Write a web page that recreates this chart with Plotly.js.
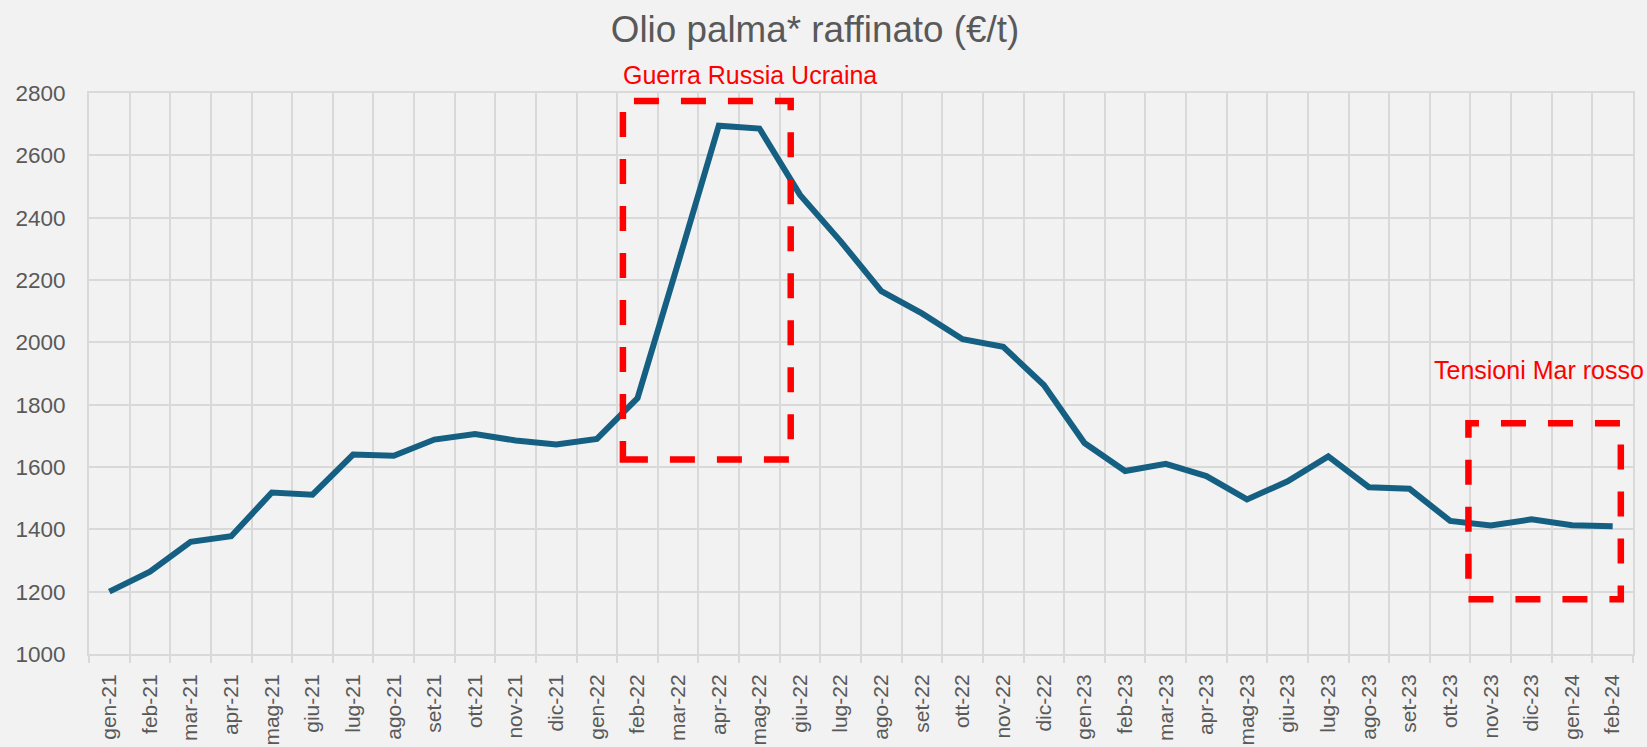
<!DOCTYPE html>
<html>
<head>
<meta charset="utf-8">
<script src="https://cdn.plot.ly/plotly-3.0.1.min.js"></script>
<style>
  html, body { margin: 0; padding: 0; background: #f2f2f2; }
  #chart { width: 1647px; height: 747px; }
</style>
</head>
<body>
<div id="chart"></div>
<script>
var months = ['gen-21','feb-21','mar-21','apr-21','mag-21','giu-21','lug-21','ago-21','set-21','ott-21','nov-21','dic-21',
              'gen-22','feb-22','mar-22','apr-22','mag-22','giu-22','lug-22','ago-22','set-22','ott-22','nov-22','dic-22',
              'gen-23','feb-23','mar-23','apr-23','mag-23','giu-23','lug-23','ago-23','set-23','ott-23','nov-23','dic-23',
              'gen-24','feb-24'];
var prices = [1200,1264,1360,1378,1518,1511,1640,1636,1688,1706,1685,1672,
              1690,1821,2255,2695,2686,2473,2324,2164,2093,2010,1986,1863,
              1677,1587,1610,1571,1496,1554,1634,1535,1530,1427,1412,1432,
              1413,1410];
var yTicks = [1000,1200,1400,1600,1800,2000,2200,2400,2600,2800];
var chartTitle = 'Olio palma* raffinato (€/t)';
var eventLabels = ['Guerra Russia Ucraina', 'Tensioni Mar rosso'];

var FONT = 'Liberation Sans, Arial, sans-serif';
var boxLine = {color: '#ff0000', width: 6.5, dash: '25px,22px'};

var trace = {
  type: 'scatter',
  mode: 'lines',
  x: months,
  y: prices,
  line: {color: '#156082', width: 6},
  hoverinfo: 'x+y'
};

var layout = {
  width: 1647,
  height: 747,
  paper_bgcolor: '#f2f2f2',
  plot_bgcolor: '#f2f2f2',
  margin: {l: 88.7, r: 14, t: 92.7, b: 92.7},
  showlegend: false,
  title: {
    text: chartTitle,
    font: {family: FONT, size: 36.8, color: '#595959'},
    x: 815 / 1647, xanchor: 'center', xref: 'container',
    y: 1 - 29 / 747, yanchor: 'middle', yref: 'container'
  },
  xaxis: {
    type: 'category',
    tickson: 'boundaries',
    showgrid: true,
    gridcolor: '#d9d9d9',
    gridwidth: 2,
    ticks: 'outside',
    ticklen: 7,
    tickwidth: 2,
    tickcolor: '#d9d9d9',
    tickangle: -90,
    tickfont: {family: FONT, size: 21, color: '#595959'},
    showline: true,
    linecolor: '#d9d9d9',
    linewidth: 2,
    mirror: true,
    zeroline: false,
    range: [-0.5, months.length - 0.5],
    ticklabelstandoff: 10
  },
  yaxis: {
    range: [1000, 2800],
    tickvals: yTicks,
    ticktext: yTicks.map(String),
    showgrid: true,
    gridcolor: '#d9d9d9',
    gridwidth: 2,
    ticks: '',
    tickfont: {family: FONT, size: 22.5, color: '#595959'},
    showline: true,
    linecolor: '#d9d9d9',
    linewidth: 2,
    mirror: true,
    zeroline: false,
    ticklabelstandoff: 17
  },
  shapes: [
    {type: 'rect', xref: 'x', yref: 'y', x0: 12.64, x1: 16.77, y0: 1624, y1: 2774,
     line: boxLine, fillcolor: 'rgba(0,0,0,0)', layer: 'above'},
    {type: 'rect', xref: 'x', yref: 'y', x0: 33.45, x1: 37.2, y0: 1176, y1: 1740,
     line: boxLine, fillcolor: 'rgba(0,0,0,0)', layer: 'above'}
  ],
  annotations: [
    {text: eventLabels[0], xref: 'paper', yref: 'paper', x: 0.4279, y: 1.0324,
     xanchor: 'center', yanchor: 'middle', showarrow: false,
     font: {family: FONT, size: 25, color: '#ff0000'}},
    {text: eventLabels[1], xref: 'paper', yref: 'paper', x: 0.9393, y: 0.5062,
     xanchor: 'center', yanchor: 'middle', showarrow: false,
     font: {family: FONT, size: 25, color: '#ff0000'}}
  ]
};

Plotly.newPlot('chart', [trace], layout, {displayModeBar: false, responsive: false});
</script>
</body>
</html>
